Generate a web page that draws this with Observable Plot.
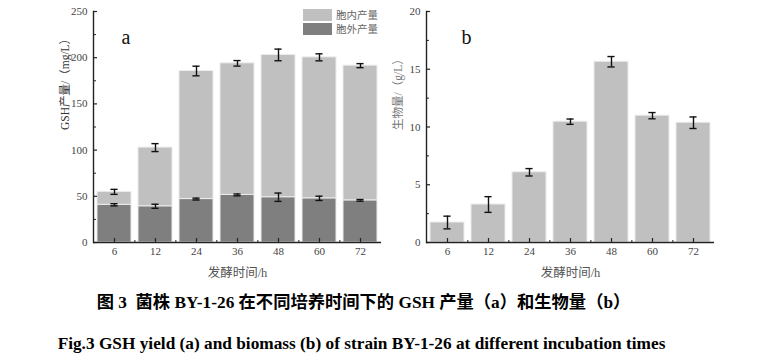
<!DOCTYPE html>
<html>
<head>
<meta charset="utf-8">
<script src="https://cdn.jsdelivr.net/npm/d3@7"></script>
<script src="https://cdn.jsdelivr.net/npm/@observablehq/plot@0.6"></script>
<style>
  html, body { margin: 0; padding: 0; background: #fff; }
  #wrap { position: relative; width: 757px; height: 356px; overflow: hidden; font-family: "Liberation Serif", "Noto Sans CJK SC", serif; }
  #pa { position: absolute; left: 0; top: 0; }
  #pb { position: absolute; left: 380px; top: 0; }
  .legend { position: absolute; left: 303px; height: 13px; font-size: 10.5px; color: #666; line-height: 13px; display: flex; align-items: center; font-family: "Noto Sans CJK SC", sans-serif; overflow: visible; }
  .legend span.sw { display: inline-block; width: 29px; height: 12px; margin-right: 4px; flex: none; }
  .cap { position: absolute; width: 757px; text-align: center; font-weight: bold; color: #000; white-space: nowrap; line-height: 20px; }
  #cap1 { top: 293px; font-size: 17.3px; left: -15px; }
  #cap2 { top: 334px; font-size: 17.3px; left: -17px; }
</style>
</head>
<body>
<div id="wrap">
  <div id="pa"></div>
  <div id="pb"></div>
  <div class="legend" style="top:8px"><span class="sw" style="background:#c0c0c0"></span>胞内产量</div>
  <div class="legend" style="top:22px"><span class="sw" style="background:#7f7f7f"></span>胞外产量</div>
  <div class="cap" id="cap1">图 3&nbsp; 菌株 BY-1-26 在不同培养时间下的 GSH 产量（a）和生物量（b）</div>
  <div class="cap" id="cap2">Fig.3 GSH yield (a) and biomass (b) of strain BY-1-26 at different incubation times</div>
</div>
<script>
// ---- data ----
const times = ["6", "12", "24", "36", "48", "60", "72"];
const extraYield = [40.8, 39.2, 47.0, 51.5, 49.0, 47.8, 45.6];      // 胞外产量 mg/L
const extraErr   = [1.2, 2.2, 1.0, 1.0, 4.5, 2.3, 0.9];
const intraYield = [14.0, 63.5, 138.6, 142.4, 154.0, 152.6, 145.8]; // 胞内产量 mg/L (stacked on top)
const totalErr   = [2.7, 4.3, 5.2, 3.0, 6.3, 3.8, 2.2];
const biomass    = [1.73, 3.29, 6.08, 10.46, 15.65, 10.98, 10.37];  // g/L
const biomassErr = [0.55, 0.68, 0.32, 0.23, 0.45, 0.27, 0.50];
const yTicksA = [0, 50, 100, 150, 200, 250];
const yMinorA = [25, 75, 125, 175, 225];
const yTicksB = [0, 5, 10, 15, 20];
const yMinorB = [2.5, 7.5, 12.5, 17.5];

const rowsA = times.map((t, i) => ({t, extra: extraYield[i], eErr: extraErr[i], total: extraYield[i] + intraYield[i], tErr: totalErr[i]}));
const rowsB = times.map((t, i) => ({t, v: biomass[i], err: biomassErr[i]}));

const FONT = "'Liberation Serif', 'Noto Sans CJK SC', serif";
const LIGHT = "#c0c0c0", DARK = "#7f7f7f", EDGE = "#ececec", AX = "#222";

function frameParts(W, H, mL, mR, mT, mB, major, minor, yLabel, letter, letterDx, labelColor) {
  const iw = W - mL - mR, ih = H - mT - mB;
  const pi = 0.18, po = 0.08;
  const step = iw / (times.length - pi + 2 * po);
  const bw = step * (1 - pi);
  return {iw, ih, step, bw, pi, po, marks: [
    Plot.ruleY([0], {stroke: AX, strokeWidth: 1.6}),
    Plot.frame({anchor: "left", stroke: AX, strokeWidth: 1.4}),
    Plot.tickY(major, {y: d => d, insetRight: iw - 4, stroke: AX, strokeWidth: 1.2}),
    Plot.tickY(minor, {y: d => d, insetRight: iw - 3, stroke: AX, strokeWidth: 1}),
    Plot.tickX(times, {x: d => d, insetTop: ih - 4, stroke: AX, strokeWidth: 1.2}),
    Plot.tickX(times.slice(1), {x: d => d, dx: -step / 2, insetTop: ih - 2, stroke: AX, strokeWidth: 1}),
    Plot.axisY({ticks: major, tickSize: 0, tickPadding: 6, label: null, fontSize: 11, fill: "#444", fontFamily: FONT, tickFormat: d => String(d)}),
    Plot.axisX({tickSize: 0, tickPadding: 5, label: null, fontSize: 11, fill: "#444", fontFamily: FONT}),
    Plot.text([yLabel], {frameAnchor: "left", dx: -28, dy: 3, rotate: -90, fontSize: 11.5, fill: labelColor, fontFamily: FONT}),
    Plot.text(["发酵时间/h"], {frameAnchor: "bottom", dy: 30, lineAnchor: "middle", fontSize: 12.5, fill: "#555", fontFamily: FONT}),
    Plot.text([letter], {frameAnchor: "top-left", dx: letterDx, dy: 18, fontSize: 20, fill: "#111", fontFamily: FONT})
  ]};
}

// ---- chart a ----
{
  const W = 385, H = 290, mL = 93, mR = 4, mT = 11, mB = 48;
  const f = frameParts(W, H, mL, mR, mT, mB, yTicksA, yMinorA, "GSH产量/（mg/L）", "a", 28, "#333");
  const capInset = (f.bw - 7) / 2;
  const plotA = Plot.plot({
    width: W, height: H, marginLeft: mL, marginRight: mR, marginTop: mT, marginBottom: mB,
    style: {fontFamily: FONT, fontSize: "11px", color: "#444", background: "transparent"},
    x: {domain: times, paddingInner: f.pi, paddingOuter: f.po, label: null, axis: null},
    y: {domain: [0, 250], label: null, axis: null},
    marks: [
      Plot.barY(rowsA, {x: "t", y1: 0, y2: "extra", fill: DARK, stroke: EDGE, strokeWidth: 1}),
      Plot.barY(rowsA, {x: "t", y1: "extra", y2: "total", fill: LIGHT, stroke: EDGE, strokeWidth: 1}),
      // error bars (total)
      Plot.ruleX(rowsA, {x: "t", y1: d => d.total - d.tErr, y2: d => d.total + d.tErr, stroke: "#111", strokeWidth: 1.4}),
      Plot.tickY(rowsA, {x: "t", y: d => d.total - d.tErr, inset: capInset, stroke: "#111", strokeWidth: 1.4}),
      Plot.tickY(rowsA, {x: "t", y: d => d.total + d.tErr, inset: capInset, stroke: "#111", strokeWidth: 1.4}),
      // error bars (extracellular)
      Plot.ruleX(rowsA, {x: "t", y1: d => d.extra - d.eErr, y2: d => d.extra + d.eErr, stroke: "#111", strokeWidth: 1.4}),
      Plot.tickY(rowsA, {x: "t", y: d => d.extra - d.eErr, inset: capInset, stroke: "#111", strokeWidth: 1.4}),
      Plot.tickY(rowsA, {x: "t", y: d => d.extra + d.eErr, inset: capInset, stroke: "#111", strokeWidth: 1.4}),
      ...f.marks
    ]
  });
  document.getElementById("pa").append(plotA);
}

// ---- chart b ----
{
  const W = 377, H = 290, mL = 46, mR = 43, mT = 11, mB = 48;
  const f = frameParts(W, H, mL, mR, mT, mB, yTicksB, yMinorB, "生物量/（g/L）", "b", 35, "#777");
  const capInset = (f.bw - 7) / 2;
  const plotB = Plot.plot({
    width: W, height: H, marginLeft: mL, marginRight: mR, marginTop: mT, marginBottom: mB,
    style: {fontFamily: FONT, fontSize: "11px", color: "#444", background: "transparent"},
    x: {domain: times, paddingInner: f.pi, paddingOuter: f.po, label: null, axis: null},
    y: {domain: [0, 20], label: null, axis: null},
    marks: [
      Plot.barY(rowsB, {x: "t", y1: 0, y2: "v", fill: LIGHT, stroke: EDGE, strokeWidth: 1}),
      Plot.ruleX(rowsB, {x: "t", y1: d => d.v - d.err, y2: d => d.v + d.err, stroke: "#111", strokeWidth: 1.4}),
      Plot.tickY(rowsB, {x: "t", y: d => d.v - d.err, inset: capInset, stroke: "#111", strokeWidth: 1.4}),
      Plot.tickY(rowsB, {x: "t", y: d => d.v + d.err, inset: capInset, stroke: "#111", strokeWidth: 1.4}),
      ...f.marks
    ]
  });
  document.getElementById("pb").append(plotB);
}
</script>
</body>
</html>
